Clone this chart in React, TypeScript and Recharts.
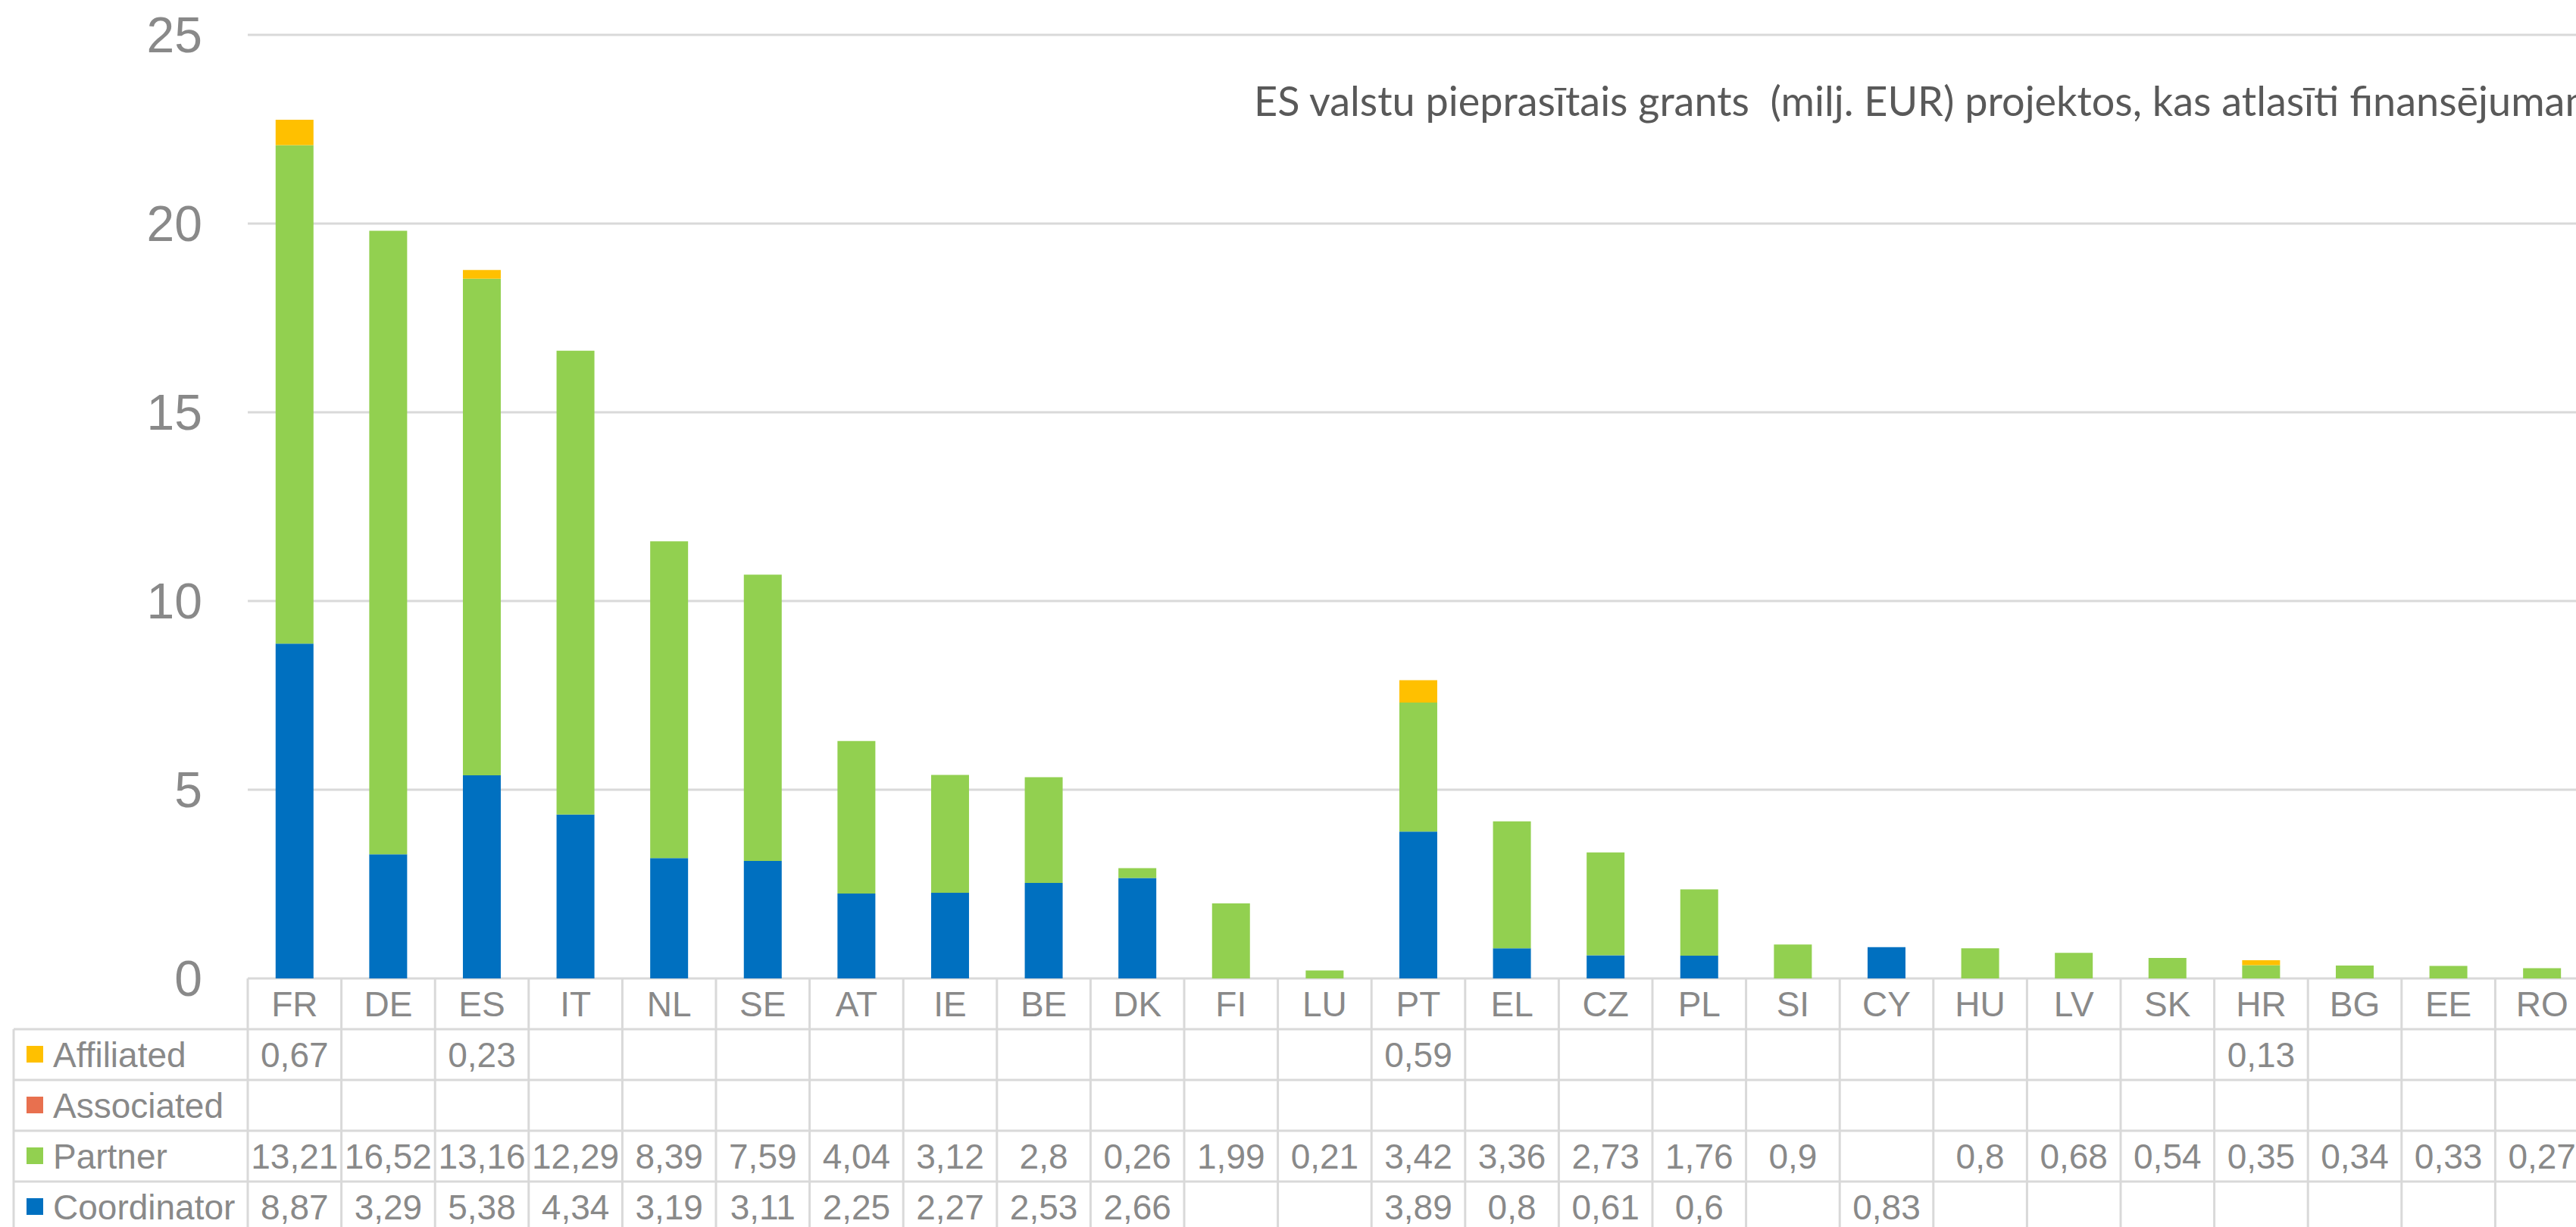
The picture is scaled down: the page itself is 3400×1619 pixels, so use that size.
import { BarChart, Bar, XAxis, YAxis, CartesianGrid } from 'recharts';

const CATEGORIES = ['FR', 'DE', 'ES', 'IT', 'NL', 'SE', 'AT', 'IE', 'BE', 'DK', 'FI', 'LU', 'PT', 'EL', 'CZ', 'PL', 'SI', 'CY', 'HU', 'LV', 'SK', 'HR', 'BG', 'EE', 'RO'];

const AFFILIATED = [0.67, null, 0.23, null, null, null, null, null, null, null, null, null, 0.59, null, null, null, null, null, null, null, null, 0.13, null, null, null];
const ASSOCIATED = [null, null, null, null, null, null, null, null, null, null, null, null, null, null, null, null, null, null, null, null, null, null, null, null, null];
const PARTNER = [13.21, 16.52, 13.16, 12.29, 8.39, 7.59, 4.04, 3.12, 2.8, 0.26, 1.99, 0.21, 3.42, 3.36, 2.73, 1.76, 0.9, null, 0.8, 0.68, 0.54, 0.35, 0.34, 0.33, 0.27];
const COORDINATOR = [8.87, 3.29, 5.38, 4.34, 3.19, 3.11, 2.25, 2.27, 2.53, 2.66, null, null, 3.89, 0.8, 0.61, 0.6, null, 0.83, null, null, null, null, null, null, null];

const Y_TICKS = [0, 5, 10, 15, 20, 25];
const TITLE = 'ES valstu pieprasītais grants  (milj. EUR) projektos, kas atlasīti finansējumam';

const SERIES = [
  { key: 'affiliated', label: 'Affiliated', color: '#FFC000', values: AFFILIATED },
  { key: 'associated', label: 'Associated', color: '#E8704F', values: ASSOCIATED },
  { key: 'partner', label: 'Partner', color: '#92D050', values: PARTNER },
  { key: 'coordinator', label: 'Coordinator', color: '#0070C0', values: COORDINATOR },
];

// layout
const PLOT_LEFT = 327;
const PLOT_TOP = 46;
const PLOT_BOTTOM = 1291;
const COL_W = 123.6;
const CHART_W = PLOT_LEFT + COL_W * CATEGORIES.length;
const AXIS_H = 345;
const CHART_H = PLOT_BOTTOM + AXIS_H;
const ROW_H = 67;
const TABLE_LEFT = 18;
const LINE = '#d9d9d9';
const TEXT = '#898989';
const FONT = '"Liberation Sans", Arial, sans-serif';

const chartData = CATEGORIES.map((c, i) => ({
  name: c,
  coordinator: COORDINATOR[i] ?? 0,
  partner: PARTNER[i] ?? 0,
  associated: ASSOCIATED[i] ?? 0,
  affiliated: AFFILIATED[i] ?? 0,
}));

const fmt = (v: number | null) => (v == null ? '' : String(v).replace('.', ','));

function TableTick(props: any) {
  const { x, y, payload } = props;
  const i = CATEGORIES.indexOf(payload.value);
  const left = x - COL_W / 2;
  const right = x + COL_W / 2;
  const bottom = y + AXIS_H;

  return (
    <g>
      {i === 0 && (
        <g>
          <line x1={left} y1={y} x2={left} y2={bottom} stroke={LINE} strokeWidth={3} />
          <line x1={TABLE_LEFT} y1={y + ROW_H} x2={TABLE_LEFT} y2={bottom} stroke={LINE} strokeWidth={3} />
          {SERIES.map((s, r) => (
            <g key={s.key}>
              <line x1={TABLE_LEFT} y1={y + ROW_H * (r + 1)} x2={left} y2={y + ROW_H * (r + 1)} stroke={LINE} strokeWidth={3} />
              <rect x={35} y={y + ROW_H * (r + 1) + 22} width={22} height={22} fill={s.color} />
              <text
                x={70}
                y={y + ROW_H * (r + 1) + ROW_H / 2}
                dominantBaseline="central"
                fontSize={46}
                fill={TEXT}
                fontFamily={FONT}
              >
                {s.label}
              </text>
            </g>
          ))}
        </g>
      )}
      <line x1={right} y1={y} x2={right} y2={bottom} stroke={LINE} strokeWidth={3} />
      <text
        x={x}
        y={y + ROW_H / 2}
        textAnchor="middle"
        dominantBaseline="central"
        fontSize={46}
        fill={TEXT}
        fontFamily={FONT}
      >
        {payload.value}
      </text>
      {SERIES.map((s, r) => (
        <g key={s.key}>
          <line x1={left} y1={y + ROW_H * (r + 1)} x2={right} y2={y + ROW_H * (r + 1)} stroke={LINE} strokeWidth={3} />
          <text
            x={x}
            y={y + ROW_H * (r + 1) + ROW_H / 2}
            textAnchor="middle"
            dominantBaseline="central"
            fontSize={46}
            fill={TEXT}
            fontFamily={FONT}
          >
            {fmt(s.values[i])}
          </text>
        </g>
      ))}
    </g>
  );
}

export default function App() {
  return (
    <div
      style={{
        position: 'absolute',
        left: 0,
        top: 0,
        width: 3400,
        height: 1619,
        overflow: 'hidden',
        background: '#fff',
      }}
    >
      <BarChart
        width={CHART_W}
        height={CHART_H}
        data={chartData}
        margin={{ top: PLOT_TOP, right: 0, bottom: 0, left: 0 }}
        barCategoryGap="29.75%"
      >
        <CartesianGrid vertical={false} stroke={LINE} strokeWidth={3} />
        <XAxis
          dataKey="name"
          height={AXIS_H}
          axisLine={false}
          tickLine={false}
          tickSize={0}
          tickMargin={0}
          interval={0}
          tick={<TableTick />}
        />
        <YAxis
          width={PLOT_LEFT}
          domain={[0, 25]}
          ticks={Y_TICKS}
          axisLine={false}
          tickLine={false}
          tickSize={0}
          tickMargin={60}
          tick={{ fontSize: 66, fill: TEXT, fontFamily: FONT }}
        />
        <Bar dataKey="coordinator" stackId="a" fill="#0070C0" isAnimationActive={false} />
        <Bar dataKey="partner" stackId="a" fill="#92D050" isAnimationActive={false} />
        <Bar dataKey="associated" stackId="a" fill="#E8704F" isAnimationActive={false} />
        <Bar dataKey="affiliated" stackId="a" fill="#FFC000" isAnimationActive={false} />
      </BarChart>
      <div
        style={{
          position: 'absolute',
          left: 1655,
          top: 100,
          whiteSpace: 'pre',
          fontFamily: 'Lato, sans-serif',
          fontSize: 54,
          color: '#595959',
        }}
      >
        {TITLE}
      </div>
    </div>
  );
}
